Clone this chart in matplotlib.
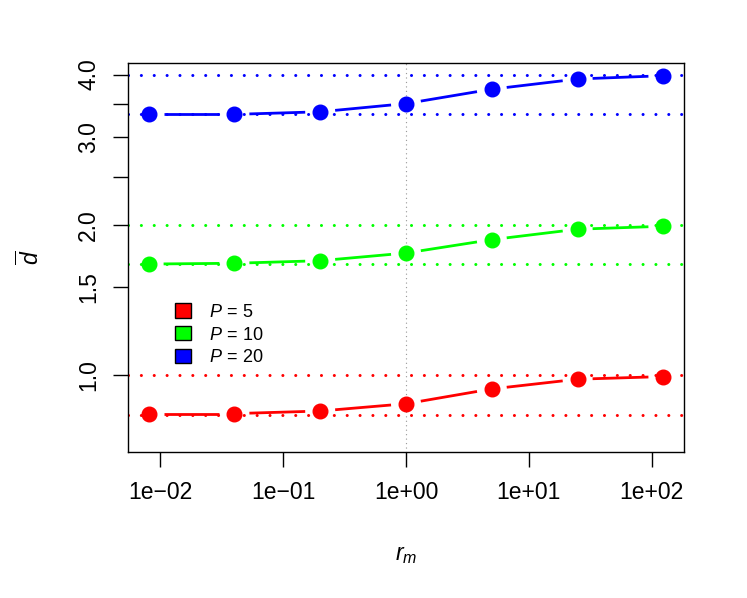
import numpy as np
import matplotlib
matplotlib.use("Agg")
import matplotlib.pyplot as plt
from matplotlib.patches import Patch

plt.rcParams["font.family"] = ["Liberation Sans", "DejaVu Sans"]
plt.rcParams["mathtext.fontset"] = "custom"
plt.rcParams["mathtext.rm"] = "Liberation Sans"
plt.rcParams["mathtext.it"] = "Liberation Sans:italic"

# data
r_m = [0.008, 0.04, 0.2, 1, 5, 25, 125]
d_p5 = [0.838, 0.838, 0.848, 0.877, 0.939, 0.982, 0.994]
d_p10 = [1.670, 1.676, 1.696, 1.757, 1.869, 1.961, 1.988]
d_p20 = [3.33, 3.33, 3.37, 3.50, 3.74, 3.92, 3.98]
series = [d_p5, d_p10, d_p20]
labels = [r"$P\,=\,5$", r"$P\,=\,10$", r"$P\,=\,20$"]
colors = ["#ff0000", "#00ff00", "#0000ff"]
upper_levels = [1.0, 2.0, 4.0]        # P / 5
lower_levels = [5 / 6, 10 / 6, 20 / 6]  # P / 6

ytick_vals = [1.0, 1.5, 2.0, 2.5, 3.0, 3.5, 4.0]
ytick_labels = ["1.0", "1.5", "2.0", "", "3.0", "", "4.0"]
xtick_vals = [1e-2, 1e-1, 1e0, 1e1, 1e2]
xtick_labels = ["1e\u221202", "1e\u221201", "1e+00", "1e+01", "1e+02"]

W, H = 747, 598
fig = plt.figure(figsize=(W / 100, H / 100), dpi=100)
ax = fig.add_axes([128 / W, 1 - 452 / H, (684 - 128) / W, (452 - 63) / H])
ax.set_xscale("log")
ax.set_yscale("log")

# R style 4% extension on log x range
lx = np.log10([min(r_m), max(r_m)])
ext = 0.04 * (lx[1] - lx[0])
ax.set_xlim(10 ** (lx[0] - ext), 10 ** (lx[1] + ext))
ax.set_ylim(0.702, 4.22)

# reference lines
ax.axvline(1.0, color="#999999", lw=1.0, ls=(0, (0.01, 3.2)), dash_capstyle="round", zorder=1)
dot = (0, (0.01, 4.2))
for c, up, lo in zip(colors, upper_levels, lower_levels):
    for lev in (up, lo):
        ax.axhline(lev, color=c, lw=2.2, ls=dot, dash_capstyle="round", zorder=1)

# type="b" lines: segments stop short of the points
gap = 15.0  # pixels
for c, yv in zip(colors, series):
    pts = ax.transData.transform(np.column_stack([r_m, yv]))
    for a, b in zip(pts[:-1], pts[1:]):
        v = b - a
        n = np.hypot(*v)
        if n <= 2 * gap:
            continue
        u = v / n
        seg = ax.transData.inverted().transform([a + u * gap, b - u * gap])
        ax.plot(seg[:, 0], seg[:, 1], color=c, lw=2.0, solid_capstyle="butt", zorder=2)
    ax.plot(r_m, yv, "o", color=c, ms=10.5, mec=c, zorder=3)

ax.set_xticks(xtick_vals)
ax.set_xticklabels(xtick_labels)
ax.xaxis.set_minor_locator(matplotlib.ticker.NullLocator())
ax.set_yticks(ytick_vals)
ax.set_yticklabels(ytick_labels, rotation=90, va="center")
ax.yaxis.set_minor_locator(matplotlib.ticker.NullLocator())
ax.tick_params(axis="both", length=11, width=1.0, labelsize=16.5, color="black")
ax.tick_params(axis="x", pad=10)
ax.tick_params(axis="y", pad=9)
for s in ax.spines.values():
    s.set_linewidth(1.0)

ax.set_xlabel("$r_m$", fontsize=16.5, labelpad=28)
ax.set_ylabel(r"$\overline{d}$", fontsize=16.5, labelpad=24)

handles = [Patch(facecolor=c, edgecolor="black", lw=1.0) for c in colors]
ax.legend(handles, labels, loc="upper left", bbox_to_anchor=(40 / 556, 1 - 233 / 389),
          frameon=False, fontsize=13, handlelength=0.85, handleheight=0.85,
          handletextpad=1.0, labelspacing=0.3, borderaxespad=0)

fig.savefig("out.png", dpi=100)
